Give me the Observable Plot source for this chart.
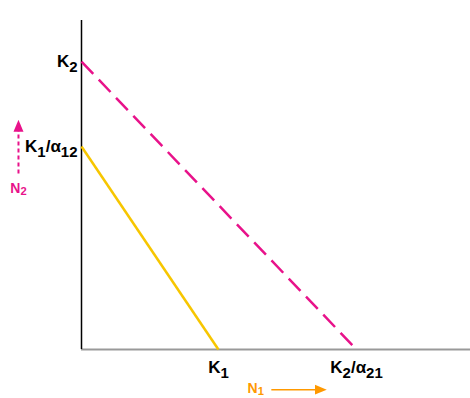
<!DOCTYPE html>
<html>
<head>
<meta charset="utf-8">
<script src="https://cdn.jsdelivr.net/npm/d3@7"></script>
<script src="https://cdn.jsdelivr.net/npm/@observablehq/plot@0.6"></script>
<style>
  html, body { margin: 0; padding: 0; background: #fff; }
  svg { display: block; }
</style>
</head>
<body>
<div id="chart"></div>
<script>
// Isoclines (competition model), axis units 0..100
const isoNames = ["N1 isocline", "N2 isocline"];
const isoYIntercept = [61.7, 87.5];   // K1/α12, K2
const isoXIntercept = [35.2, 70.7];   // K1, K2/α21
const isoColors = ["#f7c600", "#e8128a"];

// tick labels
const xTickValues = [35.2, 70.7];
const xTickLabels = ["K_1", "K_2/α_21"];
const yTickValues = [87.5, 61.7];
const yTickLabels = ["K_2", "K_1/α_12"];

// axis titles with arrows (placed in the margins)
const axisTitles = ["N_1", "N_2"];
const axisTitleX = [44.8, -16.2];
const axisTitleY = [-11.8, 48.8];
const axisColors = ["#ff9900", "#e8128a"];
const arrowX1 = [48.8, -16.2], arrowX2 = [61.5, -16.2];
const arrowY1 = [-12.2, 53.5], arrowY2 = [-12.2, 68.0];

const lines = isoNames.map((name, i) => ({
  name, x1: 0, y1: isoYIntercept[i], x2: isoXIntercept[i], y2: 0, color: isoColors[i]
}));
const xTicks = xTickValues.map((v, i) => ({v, label: xTickLabels[i]}));
const yTicks = yTickValues.map((v, i) => ({v, label: yTickLabels[i]}));
const titles = axisTitles.map((t, i) => ({t, x: axisTitleX[i], y: axisTitleY[i], color: axisColors[i]}));
const arrows = axisTitles.map((t, i) => ({x1: arrowX1[i], y1: arrowY1[i], x2: arrowX2[i], y2: arrowY2[i], color: axisColors[i]}));

function triMarker(size) {
  return (color) => {
    const m = document.createElementNS("http://www.w3.org/2000/svg", "marker");
    m.setAttribute("viewBox", "-6 -5 12 10");
    m.setAttribute("markerWidth", size);
    m.setAttribute("markerHeight", size);
    m.setAttribute("markerUnits", "userSpaceOnUse");
    m.setAttribute("orient", "auto");
    m.setAttribute("refX", "0");
    m.setAttribute("refY", "0");
    const p = document.createElementNS("http://www.w3.org/2000/svg", "path");
    p.setAttribute("d", "M-6,-5L6,0L-6,5Z");
    p.setAttribute("fill", color);
    p.setAttribute("stroke", "none");
    p.setAttribute("stroke-dasharray", "none");
    m.appendChild(p);
    return m;
  };
}

const font = "Liberation Sans, Arial, sans-serif";

const chart = Plot.plot({
  width: 470,
  height: 398,
  marginLeft: 81,
  marginRight: 0,
  marginTop: 20,
  marginBottom: 49,
  style: {background: "#fff", fontFamily: font},
  x: {domain: [0, 100], axis: null},
  y: {domain: [0, 100], axis: null},
  marks: [
    Plot.ruleY([0], {stroke: "#999", strokeWidth: 2}),
    Plot.ruleX([0], {stroke: "#000", strokeWidth: 1.5}),
    Plot.link(lines.slice(0, 1), {x1: "x1", y1: "y1", x2: "x2", y2: "y2", stroke: "color", strokeWidth: 2.5}),
    Plot.link(lines.slice(1), {x1: "x1", y1: "y1", x2: "x2", y2: "y2", stroke: "color", strokeWidth: 2.5, strokeDasharray: "17,8"}),
    Plot.text(xTicks, {x: "v", y: 0, text: "label", dy: 18, fontSize: 17, fontWeight: "bold", fill: "#000", textAnchor: "middle"}),
    Plot.text(yTicks, {x: 0, y: "v", text: "label", dx: -4, dy: 0, fontSize: 17, fontWeight: "bold", fill: "#000", textAnchor: "end"}),
    Plot.text(titles, {x: "x", y: "y", text: "t", fill: "color", fontSize: 14, fontWeight: "bold", textAnchor: "middle", clip: false}),
    Plot.link(arrows.slice(0, 1), {x1: "x1", y1: "y1", x2: "x2", y2: "y2", stroke: "color", strokeWidth: 1.5, markerEnd: triMarker(12)}),
    Plot.link(arrows.slice(1), {x1: "x1", y1: "y1", x2: "x2", y2: "y2", stroke: "color", strokeWidth: 2, strokeDasharray: "4,3", markerEnd: triMarker(12)})
  ]
});

// turn "_digits" into subscripts
chart.querySelectorAll("text").forEach(t => {
  const s = t.textContent;
  if (!s.includes("_")) return;
  const small = s.startsWith("N");
  const parts = s.split(/_(\d+)/);
  while (t.firstChild) t.removeChild(t.firstChild);
  parts.forEach((p, i) => {
    if (!p) return;
    const ts = document.createElementNS("http://www.w3.org/2000/svg", "tspan");
    ts.textContent = p;
    if (i % 2 === 1) {
      ts.setAttribute("dy", small ? "0.18em" : "0.34em");
      ts.setAttribute("font-size", small ? "0.8em" : "0.88em");
    } else if (i > 0) {
      ts.setAttribute("dy", "-0.3em");
    }
    t.appendChild(ts);
  });
});

document.getElementById("chart").appendChild(chart);
</script>
</body>
</html>
